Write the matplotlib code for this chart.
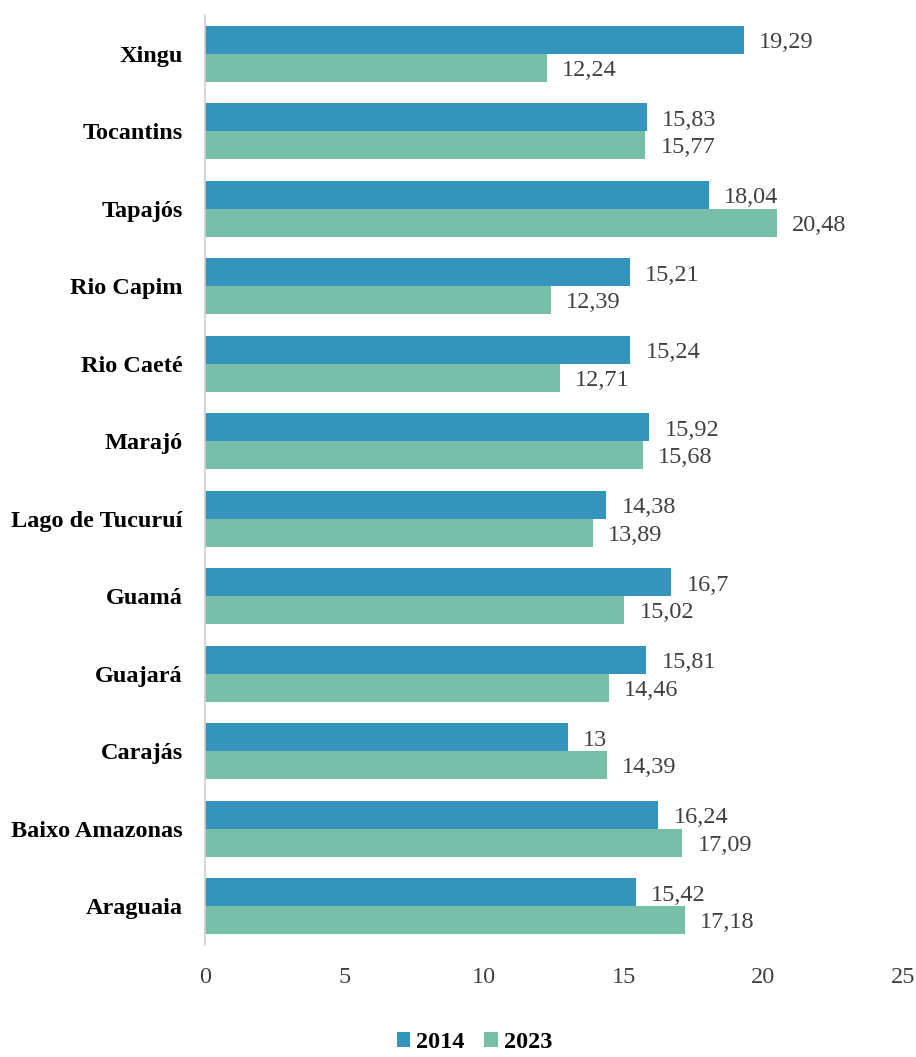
import matplotlib
matplotlib.use("Agg")
import matplotlib.pyplot as plt
import numpy as np

categories = ["Xingu", "Tocantins", "Tapajós", "Rio Capim", "Rio Caeté", "Marajó",
              "Lago de Tucuruí", "Guamá", "Guajará", "Carajás", "Baixo Amazonas", "Araguaia"]
v2014 = [19.29, 15.83, 18.04, 15.21, 15.24, 15.92, 14.38, 16.7, 15.81, 13, 16.24, 15.42]
v2023 = [12.24, 15.77, 20.48, 12.39, 12.71, 15.68, 13.89, 15.02, 14.46, 14.39, 17.09, 17.18]
labels2014 = ["19,29", "15,83", "18,04", "15,21", "15,24", "15,92", "14,38", "16,7", "15,81", "13", "16,24", "15,42"]
labels2023 = ["12,24", "15,77", "20,48", "12,39", "12,71", "15,68", "13,89", "15,02", "14,46", "14,39", "17,09", "17,18"]
series_names = ["2014", "2023"]
xticks = [0, 5, 10, 15, 20, 25]

plt.rcParams['font.family'] = ['Liberation Serif', 'DejaVu Serif']

c14 = "#3594BC"
c23 = "#77BFA8"
fs = 17.5

fig = plt.figure(figsize=(9.16, 10.57), dpi=100)
ax = fig.add_axes([0.2238, 0.106, 0.762, 0.8798])

n = len(categories)
y = np.arange(n)
h = 0.36
ax.barh(y - h/2, v2014, height=h, color=c14, label=series_names[0])
ax.barh(y + h/2, v2023, height=h, color=c23, label=series_names[1])

for yi, v, lab in zip(y, v2014, labels2014):
    ax.annotate(lab, (v, yi - h/2), xytext=(11, -2), textcoords="offset points",
                va="center", ha="left", fontsize=fs, color="#404040")
for yi, v, lab in zip(y, v2023, labels2023):
    ax.annotate(lab, (v, yi + h/2), xytext=(11, -2), textcoords="offset points",
                va="center", ha="left", fontsize=fs, color="#404040")

ax.set_ylim(n - 0.5, -0.5)
ax.set_xlim(0, 25)
ax.set_yticks(y)
ax.set_yticklabels(categories, fontsize=fs, fontweight="bold", color="black")
ax.set_xticks(xticks)
ax.set_xticklabels([str(t) for t in xticks], fontsize=fs, color="#404040")
ax.tick_params(axis="both", length=0)
ax.tick_params(axis="y", pad=16)
ax.tick_params(axis="x", pad=16)
for s in ["top", "right", "bottom"]:
    ax.spines[s].set_visible(False)
ax.spines["left"].set_color("#D0D0D0")
ax.spines["left"].set_linewidth(1.2)

leg = fig.legend(loc="lower center", bbox_to_anchor=(0.518, -0.017), ncol=2, frameon=False,
                 prop={"weight": "bold", "size": fs}, handlelength=0.55, handleheight=0.55,
                 handletextpad=0.25, columnspacing=0.8)

fig.savefig("out.png", dpi=100)
